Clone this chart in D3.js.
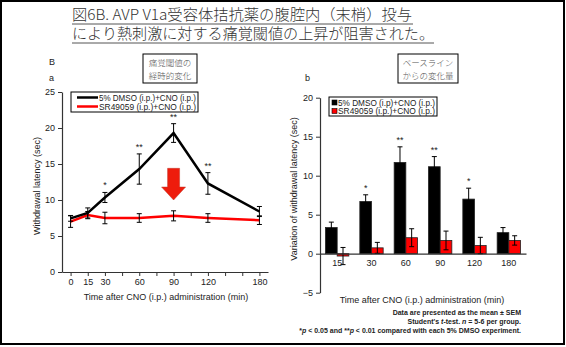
<!DOCTYPE html>
<html>
<head>
<meta charset="utf-8">
<script src="https://cdn.jsdelivr.net/npm/d3@7"></script>
<style>
  html, body { margin: 0; padding: 0; background: #fff; }
  svg { display: block; }
  text { font-family: "Liberation Sans", Arial, sans-serif; }
  .jp { font-family: "Noto Sans CJK JP", sans-serif; }
</style>
</head>
<body>
<svg id="fig" width="566" height="347"></svg>
<script>
// ---- Panel a: time course of withdrawal latency ----
const timeSlots = ["0", "15", "30", "s3", "60", "s5", "90", "s7", "120", "s9", "s10", "180"];
const timeLabels = ["0", "15", "30", "60", "90", "120", "180"];
const dmsoLatency = [7.45, 8.2, 10.35, 14.3, 19.3, 12.3, 8.4];
const dmsoLatencySem = [0.4, 0.7, 0.7, 2.1, 1.3, 1.5, 0.7];
const srLatency = [7.0, 7.9, 7.5, 7.5, 7.8, 7.5, 7.2];
const srLatencySem = [0.8, 0.5, 0.8, 0.6, 0.7, 0.6, 0.6];
const latencyStars = ["", "", "*", "**", "**", "**", ""];
const latencyTicks = [0, 5, 10, 15, 20, 25];

// ---- Panel b: change from baseline ----
const changeCats = ["15", "30", "60", "90", "120", "180"];
const dmsoChange = [3.35, 6.7, 11.7, 11.15, 7.0, 2.7];
const dmsoChangeSem = [0.7, 0.85, 2.0, 1.3, 1.4, 0.65];
const srChange = [-0.3, 0.75, 2.05, 1.7, 1.05, 1.7];
const srChangeSem = [1.1, 0.7, 1.15, 1.2, 1.05, 0.6];
const changeStars = ["", "*", "**", "**", "*", ""];
const changeTicks = [-5, 0, 5, 10, 15, 20];

const legendNames = ["5% DMSO (i.p.)+CNO (i.p.)", "SR49059 (i.p.)+CNO (i.p.)"];
const legendNamesB = ["5% DMSO (i.p)+CNO (i.p.)", "SR49059 (i.p.)+CNO (i.p.)"];
const titleLines = ["図6B. AVP V1a受容体拮抗薬の腹腔内（末梢）投与", "により熱刺激に対する痛覚閾値の上昇が阻害された。"];
const boxA = ["痛覚閾値の", "経時的変化"];
const boxB = ["ベースライン", "からの変化量"];
const notes = ["Data are presented as the mean ± SEM", "Student's t-test. n = 5-6 per group.", "*p < 0.05 and **p < 0.01 compared with each 5% DMSO experiment."];
const xTitle = "Time after CNO (i.p.) administration (min)";

const BLACK = "#000", RED = "#ff0000", INK = "#222";
const svg = d3.select("#fig");

// outer frame
svg.append("rect").attr("x", 1).attr("y", 1).attr("width", 563).attr("height", 343)
  .attr("fill", "none").attr("stroke", "#000").attr("stroke-width", 2);

// heading with underlines
titleLines.forEach((t, i) => {
  const y = 20 + i * 19;
  svg.append("text").attr("class", "jp").attr("x", 72).attr("y", y)
    .attr("font-size", 15).attr("font-weight", 300).attr("fill", "#333")
    .attr("textLength", i === 0 ? 340 : 362).attr("lengthAdjust", "spacingAndGlyphs")
    .text(t);
  svg.append("line").attr("x1", 72).attr("x2", i === 0 ? 413 : 434)
    .attr("y1", y + 4).attr("y2", y + 4).attr("stroke", "#555").attr("stroke-width", 1);
});

function noteBox(x, y, w, h, lines) {
  svg.append("rect").attr("x", x).attr("y", y).attr("width", w).attr("height", h)
    .attr("fill", "#fff").attr("stroke", "#000").attr("stroke-width", 1);
  lines.forEach((t, i) => {
    svg.append("text").attr("class", "jp").attr("x", x + w / 2).attr("y", y + 12 + i * 12.5)
      .attr("text-anchor", "middle").attr("font-size", 8.5).attr("font-weight", 300)
      .attr("fill", "#555").text(t);
  });
}

function errorBar(g, x, y, sem, yScale, cap) {
  g.append("line").attr("x1", x).attr("x2", x)
    .attr("y1", yScale(y - sem)).attr("y2", yScale(y + sem))
    .attr("stroke", "#000").attr("stroke-width", 1);
  [y - sem, y + sem].forEach(v => {
    g.append("line").attr("x1", x - cap).attr("x2", x + cap)
      .attr("y1", yScale(v)).attr("y2", yScale(v))
      .attr("stroke", "#000").attr("stroke-width", 1);
  });
}

function styleAxis(g) {
  g.selectAll("path.domain").attr("stroke", "#333").attr("stroke-width", 1.2);
  g.selectAll(".tick line").attr("stroke", "#333");
  g.selectAll(".tick text").attr("fill", INK).attr("font-size", 9)
    .attr("font-family", "Liberation Sans, Arial, sans-serif");
}

// ================= Panel a =================
svg.append("text").attr("x", 49).attr("y", 65).attr("font-size", 9).attr("fill", INK).text("B");
svg.append("text").attr("x", 49).attr("y", 81).attr("font-size", 9).attr("fill", INK).text("a");
noteBox(143, 54, 54, 29, boxA);

const yL = d3.scaleLinear().domain([0, 25]).range([272, 92]);
const xL = d3.scalePoint().domain(timeSlots).range([62, 268]).padding(0.5);
const gA = svg.append("g");

gA.append("g").attr("transform", "translate(62,0)")
  .call(d3.axisLeft(yL).tickValues(latencyTicks).tickSize(4).tickSizeOuter(0).tickPadding(3))
  .call(styleAxis);
gA.append("g").attr("transform", `translate(0,${yL(0)})`)
  .call(d3.axisBottom(xL).tickSize(4).tickSizeOuter(0).tickPadding(3)
    .tickFormat(d => timeLabels.includes(d) ? d : ""))
  .call(styleAxis);

gA.append("text").attr("transform", `translate(40,${(yL(0) + yL(25)) / 2 + 4}) rotate(-90)`)
  .attr("text-anchor", "middle").attr("font-size", 9).attr("fill", INK)
  .text("Withdrawal latency (sec)");
gA.append("text").attr("x", 166).attr("y", 300).attr("text-anchor", "middle")
  .attr("font-size", 9).attr("fill", INK).text(xTitle);

const lineGen = d3.line().x((d, i) => xL(timeLabels[i])).y(d => yL(d));
gA.append("path").datum(srLatency).attr("d", lineGen).attr("fill", "none")
  .attr("stroke", RED).attr("stroke-width", 2.5);
gA.append("path").datum(dmsoLatency).attr("d", lineGen).attr("fill", "none")
  .attr("stroke", BLACK).attr("stroke-width", 2.5);
srLatency.forEach((v, i) => errorBar(gA, xL(timeLabels[i]), v, srLatencySem[i], yL, 2.5));
dmsoLatency.forEach((v, i) => errorBar(gA, xL(timeLabels[i]), v, dmsoLatencySem[i], yL, 2.5));
dmsoLatency.forEach((v, i) => {
  if (!latencyStars[i]) return;
  gA.append("text").attr("x", xL(timeLabels[i])).attr("y", yL(v + dmsoLatencySem[i]) - 4)
    .attr("text-anchor", "middle").attr("font-size", 9).attr("fill", INK).text(latencyStars[i]);
});

// arrow pointing down onto the 90 min point
{
  const cx = xL("90");
  const top = yL(14.4), neck = yL(11.8), tip = yL(10.0);
  const pts = [[cx - 6, top], [cx + 6, top], [cx + 6, neck], [cx + 12, neck], [cx, tip],
               [cx - 12, neck], [cx - 6, neck]];
  gA.append("polygon").attr("points", pts.map(p => p.join(",")).join(" "))
    .attr("fill", "#ee1c0c").attr("stroke", "#c0392b").attr("stroke-width", 0.5);
}

// legend a
{
  const lg = gA.append("g");
  lg.append("rect").attr("x", 71).attr("y", 92).attr("width", 127).attr("height", 20)
    .attr("fill", "#fff").attr("stroke", "#000").attr("stroke-width", 1);
  [BLACK, RED].forEach((c, i) => {
    const y = 97.5 + i * 9;
    lg.append("line").attr("x1", 77).attr("x2", 98).attr("y1", y).attr("y2", y)
      .attr("stroke", c).attr("stroke-width", 2.5);
    lg.append("text").attr("x", 99).attr("y", y + 3).attr("font-size", 8.5)
      .attr("fill", INK).attr("textLength", 97).attr("lengthAdjust", "spacingAndGlyphs")
      .text(legendNames[i]);
  });
}

// ================= Panel b =================
svg.append("text").attr("x", 305).attr("y", 81).attr("font-size", 9).attr("fill", INK).text("b");
noteBox(398, 54, 60, 29, boxB);

const yR = d3.scaleLinear().domain([-5, 20]).range([292.7, 97.7]);
const xR = d3.scaleBand().domain(changeCats).range([320, 526]);
const barW = xR.bandwidth() * 0.34;
const gB = svg.append("g");

gB.append("g").attr("transform", "translate(320,0)")
  .call(d3.axisLeft(yR).tickValues(changeTicks).tickSize(4).tickSizeOuter(0).tickPadding(3))
  .call(styleAxis);

const bars = [
  { vals: dmsoChange, sem: dmsoChangeSem, fill: BLACK, dx: -barW },
  { vals: srChange, sem: srChangeSem, fill: RED, dx: 0 }
];
bars.forEach(s => {
  s.vals.forEach((v, i) => {
    const cx = xR(changeCats[i]) + xR.bandwidth() / 2;
    gB.append("rect").attr("x", cx + s.dx).attr("width", barW)
      .attr("y", yR(Math.max(0, v))).attr("height", Math.abs(yR(v) - yR(0)))
      .attr("fill", s.fill).attr("stroke", "#222").attr("stroke-width", 0.8);
  });
});
bars.forEach(s => {
  s.vals.forEach((v, i) => {
    const cx = xR(changeCats[i]) + xR.bandwidth() / 2 + s.dx + barW / 2;
    errorBar(gB, cx, v, s.sem[i], yR, 2.5);
  });
});
dmsoChange.forEach((v, i) => {
  if (!changeStars[i]) return;
  const cx = xR(changeCats[i]) + xR.bandwidth() / 2 - barW / 2;
  gB.append("text").attr("x", cx).attr("y", yR(v + dmsoChangeSem[i]) - 4)
    .attr("text-anchor", "middle").attr("font-size", 9).attr("fill", INK).text(changeStars[i]);
});

gB.append("g").attr("transform", `translate(0,${yR(0)})`)
  .call(d3.axisBottom(xR).tickSize(0).tickSizeOuter(0).tickPadding(6))
  .call(styleAxis);

gB.append("text").attr("transform", `translate(297,189) rotate(-90)`)
  .attr("text-anchor", "middle").attr("font-size", 9).attr("fill", INK)
  .text("Variation of withdrawal latency (sec)");
gB.append("text").attr("x", 422).attr("y", 303).attr("text-anchor", "middle")
  .attr("font-size", 9).attr("fill", INK).text(xTitle);

// legend b
{
  const lg = gB.append("g");
  lg.append("rect").attr("x", 329).attr("y", 97).attr("width", 108).attr("height", 19)
    .attr("fill", "#fff").attr("stroke", "#000").attr("stroke-width", 1);
  [BLACK, RED].forEach((c, i) => {
    const y = 102.5 + i * 8.5;
    lg.append("rect").attr("x", 332).attr("y", y - 2.5).attr("width", 5).attr("height", 5)
      .attr("fill", c).attr("stroke", "#000").attr("stroke-width", 0.6);
    lg.append("text").attr("x", 338).attr("y", y + 3).attr("font-size", 8.3)
      .attr("fill", INK).attr("textLength", 97).attr("lengthAdjust", "spacingAndGlyphs")
      .text(legendNamesB[i]);
  });
}

// footnotes
notes.forEach((t, i) => {
  const txt = svg.append("text").attr("x", 521).attr("y", 315 + i * 9)
    .attr("text-anchor", "end").attr("font-size", 7).attr("font-weight", "bold").attr("fill", INK);
  if (i === 0) txt.text(t);
  if (i === 1) {
    txt.append("tspan").text("Student's ");
    txt.append("tspan").attr("font-style", "italic").text("t");
    txt.append("tspan").text("-test. ");
    txt.append("tspan").attr("font-style", "italic").text("n");
    txt.append("tspan").text(" = 5-6 per group.");
  }
  if (i === 2) {
    txt.append("tspan").text("*");
    txt.append("tspan").attr("font-style", "italic").text("p");
    txt.append("tspan").text(" < 0.05 and **");
    txt.append("tspan").attr("font-style", "italic").text("p");
    txt.append("tspan").text(" < 0.01 compared with each 5% DMSO experiment.");
  }
});
</script>
</body>
</html>
